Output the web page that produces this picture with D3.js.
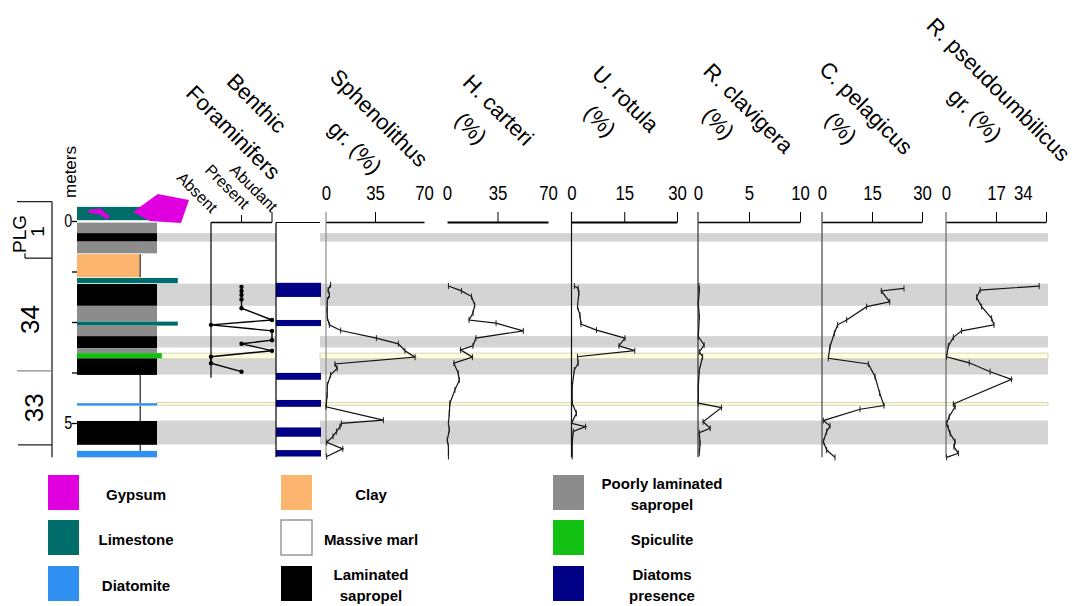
<!DOCTYPE html>
<html>
<head>
<meta charset="utf-8">
<script src="https://cdn.jsdelivr.net/npm/d3@7"></script>
<style>
  html, body { margin: 0; padding: 0; background: #fff; }
  svg { display: block; }
  text { font-family: "Liberation Sans", Arial, sans-serif; fill: #000; }
</style>
</head>
<body>
<svg id="chart" width="1076" height="606"></svg>
<script>
// ---------------- data (depth in metres) ----------------

// lithology log: [top, base, facies]
const lithLayers = [
  [-0.35, -0.02, "limestone"],
  [0.04, 0.30, "poorly"],
  [0.30, 0.51, "laminated"],
  [0.51, 0.80, "poorly"],
  [0.82, 1.39, "clay"],
  [1.41, 1.54, "limestone"],
  [1.56, 2.10, "laminated"],
  [2.10, 2.49, "poorly"],
  [2.49, 2.59, "limestone"],
  [2.59, 2.85, "poorly"],
  [2.85, 3.15, "laminated"],
  [3.15, 3.27, "poorly"],
  [3.27, 3.40, "spiculite"],
  [3.40, 3.81, "laminated"],
  [3.81, 4.51, "marl"],
  [4.51, 4.57, "diatomite"],
  [4.57, 4.95, "marl"],
  [4.95, 5.54, "laminated"],
  [5.54, 5.69, "marl"],
  [5.69, 5.85, "diatomite"]
];

// gypsum outcrops at the top of the log: [relative column width, depth]
const gypsumLarge = [[0.70, -0.22], [1.01, -0.67], [1.40, -0.52], [1.30, 0.05], [0.91, 0.00]];
const gypsumSmall = [[0.14, -0.27], [0.29, -0.31], [0.41, -0.12], [0.38, -0.04], [0.28, -0.17], [0.15, -0.20]];

// correlation bands: laminated sapropels and marker beds (spiculite, diatomite)
const sapropelBands = [[0.30, 0.51], [1.55, 2.10], [2.85, 3.13], [3.41, 3.80], [4.94, 5.53]];
const markerBeds = [[3.27, 3.41], [4.49, 4.56]];

// diatoms presence intervals
const diatomIntervals = [[1.53, 1.88], [2.45, 2.60], [3.76, 3.93], [4.43, 4.60], [5.11, 5.34], [5.67, 5.83]];

// stratigraphic zones
const zoneBounds = [-0.48, 0.92, 3.71, 5.54];
const zoneLabels = [["PLG", "1"], ["34"], ["33"]];

// benthic foraminifers: 0 absent, 1 present, 2 abundant
const benthicLevels = ["Absent", "Present", "Abudant"];
const benthicDepth = [1.63, 1.73, 1.83, 1.94, 2.16, 2.45, 2.57, 2.72, 2.95, 3.04, 3.21, 3.36, 3.52, 3.73];
const benthicValue = [1, 1, 1, 1, 1, 2, 0, 2, 2, 1, 2, 0, 0, 1];

// nannofossil abundances: [depth, value]
const sphenolithus = [
  [1.58, 3.3], [1.71, 1.5], [1.83, 2.5], [1.96, 1.0], [2.20, 0.8], [2.40, 1.0], [2.57, 2.4],
  [2.71, 10.5], [2.90, 36], [3.04, 51.7], [3.21, 56.4], [3.37, 63.6], [3.54, 6.4], [3.65, 8.0],
  [3.81, 3.3], [4.06, 1.0], [4.31, 0.8], [4.60, 0.0], [4.93, 41], [5.01, 11], [5.09, 10],
  [5.21, 7.6], [5.33, 5.0], [5.48, 0.5], [5.64, 12], [5.83, 0.5]
];
const hCarteri = [
  [1.61, 1.0], [1.73, 10], [1.87, 17], [2.08, 19.2], [2.28, 18], [2.45, 15.3], [2.53, 34],
  [2.72, 52.9], [2.90, 20], [3.09, 18], [3.19, 9.4], [3.37, 17.6], [3.52, 4.8], [3.77, 7.8],
  [3.94, 8.5], [4.18, 5.5], [4.51, 2.0], [4.76, 1.6], [5.01, 1.0], [5.17, 1.6], [5.42, 0.2],
  [5.59, 1.0], [5.83, 1.0]
];
const uRotula = [
  [1.61, 0.8], [1.67, 1.9], [1.79, 2.1], [2.12, 1.7], [2.33, 2.4], [2.55, 2.7], [2.70, 7.1],
  [2.90, 15.2], [3.09, 13.5], [3.21, 18], [3.36, 1.7], [3.52, 1.9], [3.69, 0.8], [4.10, 0.2],
  [4.51, 0.2], [4.76, 1.4], [5.01, 0.0], [5.09, 4.0], [5.21, 0.5], [5.50, 0.2], [5.83, 0.2]
];
const rClavigera = [
  [1.61, 0.1], [1.71, 0.13], [2.04, 0.03], [2.37, 0.13], [2.86, 0.03], [3.07, 0.6], [3.24, 0.13],
  [3.36, 0.45], [3.69, 0.13], [4.10, 0.03], [4.51, 0.03], [4.62, 2.3], [4.97, 0.5], [5.13, 1.2],
  [5.24, 0.13], [5.50, 0.2], [5.75, 0.13]
];
const cPelagicus = [
  [1.67, 24.6], [1.73, 17.8], [2.00, 20.3], [2.12, 13.4], [2.45, 7.4], [2.57, 4.7], [2.78, 3.7],
  [3.11, 2.4], [3.40, 1.9], [3.54, 13.9], [3.85, 15.9], [4.26, 17.3], [4.57, 18.6], [4.66, 11.4],
  [4.94, 0.4], [5.07, 2.4], [5.21, 1.4], [5.46, 0.4], [5.67, 1.4], [5.85, 3.9]
];
const rPseudoumbilicus = [
  [1.61, 31.7], [1.71, 11.6], [1.89, 10.4], [2.12, 12.1], [2.41, 15.5], [2.57, 16.3], [2.72, 5.3],
  [2.88, 2.5], [3.09, 0.8], [3.36, 0.2], [3.51, 7.9], [3.73, 15.0], [3.92, 22.3], [4.53, 2.5],
  [4.60, 3.1], [4.84, 1.1], [5.01, 0.2], [5.13, 0.8], [5.26, 1.4], [5.46, 3.1], [5.59, 2.7],
  [5.75, 4.2], [5.85, 0.2]
];

const panelTitles = [
  ["Sphenolithus", "gr. (%)"], ["H. carteri", "(%)"], ["U. rotula", "(%)"],
  ["R. clavigera", "(%)"], ["C. pelagicus", "(%)"], ["R. pseudoumbilicus", "gr. (%)"]
];
const panelSeries = [sphenolithus, hCarteri, uRotula, rClavigera, cPelagicus, rPseudoumbilicus];
const panelDomains = [[0, 70], [0, 70], [0, 30], [0, 10], [0, 30], [0, 34]];
const panelTicks = [[0, 35, 70], [0, 35, 70], [0, 15, 30], [0, 5, 10], [0, 15, 30], [0, 17, 34]];

const legendItems = [
  ["gypsum", ["Gypsum"]], ["limestone", ["Limestone"]], ["diatomite", ["Diatomite"]],
  ["clay", ["Clay"]], ["marl", ["Massive marl"]], ["laminated", ["Laminated", "sapropel"]],
  ["poorly", ["Poorly laminated", "sapropel"]], ["spiculite", ["Spiculite"]], ["diatoms", ["Diatoms", "presence"]]
];

// ---------------- styles and layout ----------------
const colors = {
  gypsum: "#e000df", limestone: "#006d6b", diatomite: "#2f90f2", clay: "#fcb56f",
  marl: "#ffffff", laminated: "#000000", poorly: "#8c8c8c", spiculite: "#12c012", diatoms: "#000086"
};
const lithWidth = { limestone: 1.26, poorly: 1, laminated: 1, clay: 0.79, spiculite: 1.06, marl: 0.79, diatomite: 1 };
// condensed numerals: regular sans squeezed horizontally
const condensed = "scale(0.8,1)";

const panelLayout = [
  { x0: 326, x1: 424, vline: "#8a8a8a", axisW: 1.3, endTick: false, title: [[379, 118], [355, 147.5]] },
  { x0: 447, x1: 548, vline: null,      axisW: 2.2, endTick: false, title: [[498.3, 110], [470.8, 128.3]] },
  { x0: 571.5, x1: 677, vline: "#111",  axisW: 2.2, endTick: true,  title: [[625.5, 99], [600, 121]] },
  { x0: 698, x1: 800, vline: "#333",    axisW: 1.3, endTick: true,  title: [[748.3, 108.3], [718.3, 123.3]] },
  { x0: 822, x1: 922, vline: "#444",    axisW: 1.3, endTick: true,  title: [[866, 108], [841, 128]] },
  { x0: 946, x1: 1046, vline: "#666",   axisW: 1.3, endTick: true,  title: [[998.5, 89.5], [975, 115]] }
];

const svg = d3.select("#chart");
svg.append("rect").attr("width", 1076).attr("height", 606).attr("fill", "#fff");

const y = d3.scaleLinear().domain([0, 5]).range([221, 423]);
const yBottom = y(5.85);
const lx = d3.scaleLinear().domain([0, 1]).range([77, 157]);

// ---------------- correlation bands ----------------
const bandSegments = [[157, 276], [320, 1048]];
const bands = svg.append("g");
sapropelBands.forEach(b => bandSegments.forEach(s => {
  bands.append("rect").attr("x", s[0]).attr("width", s[1] - s[0])
    .attr("y", y(b[0])).attr("height", y(b[1]) - y(b[0])).attr("fill", "#d4d4d4");
}));
markerBeds.forEach(b => bandSegments.forEach(s => {
  bands.append("rect").attr("x", s[0]).attr("width", s[1] - s[0])
    .attr("y", y(b[0])).attr("height", y(b[1]) - y(b[0]))
    .attr("fill", "#fdfde3").attr("stroke", "#cfcfa8").attr("stroke-width", 0.8);
}));

// ---------------- lithological log ----------------
const lith = svg.append("g");
lithLayers.filter(l => l[2] === "marl").forEach(l => {
  lith.append("line").attr("x1", lx(lithWidth.marl)).attr("x2", lx(lithWidth.marl))
    .attr("y1", y(l[0])).attr("y2", y(l[1])).attr("stroke", "#222").attr("stroke-width", 1.2);
});
lith.selectAll("rect.layer").data(lithLayers.filter(l => l[2] !== "marl")).join("rect")
  .attr("class", "layer")
  .attr("x", lx(0)).attr("width", d => lx(lithWidth[d[2]]) - lx(0))
  .attr("y", d => y(d[0])).attr("height", d => y(d[1]) - y(d[0]))
  .attr("fill", d => colors[d[2]]);
lithLayers.filter(l => l[2] === "clay").forEach(l => {
  lith.append("line").attr("x1", lx(lithWidth.clay)).attr("x2", lx(lithWidth.clay))
    .attr("y1", y(l[0])).attr("y2", y(l[1])).attr("stroke", "#333").attr("stroke-width", 1.2);
});
const poly = d3.line().x(p => lx(p[0])).y(p => y(p[1]));
[gypsumLarge, gypsumSmall].forEach(g => {
  lith.append("path").attr("d", poly(g) + "Z").attr("fill", colors.gypsum);
});

// depth axis
const depthAxis = d3.axisLeft(y).tickValues([0, 1.25, 2.5, 3.75, 5]).tickSize(5).tickPadding(1)
  .tickFormat(d => (d === 0 || d === 5) ? d3.format("d")(d) : "");
const dg = svg.append("g").attr("transform", `translate(${lx(0)},0)`).call(depthAxis)
  .attr("font-family", null).attr("font-size", 18);
dg.select(".domain").remove();
dg.selectAll(".tick line").attr("stroke", "#000").attr("stroke-width", 1.3);
dg.selectAll(".tick text").attr("fill", "#000").attr("transform", condensed);
svg.append("text").attr("transform", "translate(70,172) rotate(-90)")
  .attr("text-anchor", "middle").attr("dominant-baseline", "central")
  .attr("font-size", 17).text("meters");

// zones
const zg = svg.append("g").attr("stroke", "#222").attr("stroke-width", 1.3);
zg.append("line").attr("x1", 52).attr("x2", 52).attr("y1", y(zoneBounds[0])).attr("y2", yBottom);
const zoneLineStart = [17, 25, 17, 18];
zoneBounds.forEach((b, i) => {
  zg.append("line").attr("x1", zoneLineStart[i]).attr("x2", 52).attr("y1", y(b)).attr("y2", y(b))
    .attr("stroke", i === 2 ? "#888" : "#222");
});
zg.append("line").attr("x1", 25).attr("x2", 25).attr("y1", y(zoneBounds[1]) - 5).attr("y2", y(zoneBounds[1]));
// zone names
svg.append("text").attr("transform", "translate(19,234) rotate(-90)").attr("text-anchor", "middle")
  .attr("dominant-baseline", "central").attr("font-size", 19).text(zoneLabels[0][0]);
svg.append("text").attr("transform", "translate(37.5,231.5) rotate(-90)").attr("text-anchor", "middle")
  .attr("dominant-baseline", "central").attr("font-size", 19).text(zoneLabels[0][1]);
svg.append("text").attr("transform", `translate(29.5,${(y(zoneBounds[1]) + y(zoneBounds[2])) / 2 + 5}) rotate(-90)`)
  .attr("text-anchor", "middle").attr("dominant-baseline", "central").attr("font-size", 26).text(zoneLabels[1][0]);
svg.append("text").attr("transform", `translate(34,${(y(zoneBounds[2]) + y(zoneBounds[3])) / 2}) rotate(-90)`)
  .attr("text-anchor", "middle").attr("dominant-baseline", "central").attr("font-size", 26).text(zoneLabels[2][0]);

// ---------------- benthic foraminifers ----------------
const bx = d3.scaleLinear().domain([0, 2]).range([211, 272]);
const bg = svg.append("g");
bg.append("line").attr("x1", bx(0)).attr("x2", bx(2)).attr("y1", 222.5).attr("y2", 222.5)
  .attr("stroke", "#000").attr("stroke-width", 1.3);
bg.append("line").attr("x1", bx(0)).attr("x2", bx(0)).attr("y1", 222.5).attr("y2", y(3.88))
  .attr("stroke", "#000").attr("stroke-width", 1.2);
bg.append("line").attr("x1", bx(1)).attr("x2", bx(1)).attr("y1", 215).attr("y2", 222.5).attr("stroke", "#000");
bg.append("line").attr("x1", bx(2)).attr("x2", bx(2)).attr("y1", 212).attr("y2", 222.5).attr("stroke", "#000");
const levelAnchors = [[211, 214], [243, 210], [271, 213]];
benthicLevels.forEach((t, i) => {
  svg.append("text").attr("transform", `translate(${levelAnchors[i][0]},${levelAnchors[i][1]}) rotate(45)`)
    .attr("text-anchor", "end").attr("font-size", 16).text(t);
});
const benthicPts = benthicDepth.map((d, i) => [benthicValue[i], d]);
bg.append("path").attr("d", d3.line().x(p => bx(p[0])).y(p => y(p[1]))(benthicPts))
  .attr("fill", "none").attr("stroke", "#000").attr("stroke-width", 1.4);
bg.selectAll("circle").data(benthicPts).join("circle")
  .attr("cx", p => bx(p[0])).attr("cy", p => y(p[1])).attr("r", 2.2).attr("fill", "#000");
svg.append("text").attr("transform", "translate(256.7,103.3) rotate(45)").attr("text-anchor", "middle")
  .attr("dominant-baseline", "central").attr("font-size", 22).text("Benthic");
svg.append("text").attr("transform", "translate(233.3,132.5) rotate(45)").attr("text-anchor", "middle")
  .attr("dominant-baseline", "central").attr("font-size", 22).text("Foraminifers");

// ---------------- diatoms column ----------------
const dcol = svg.append("g");
dcol.selectAll("rect").data(diatomIntervals).join("rect")
  .attr("x", 276).attr("width", 45).attr("y", d => y(d[0])).attr("height", d => y(d[1]) - y(d[0]))
  .attr("fill", colors.diatoms);
dcol.append("line").attr("x1", 276).attr("x2", 276).attr("y1", 222.5).attr("y2", yBottom)
  .attr("stroke", "#000").attr("stroke-width", 1.2);
dcol.append("line").attr("x1", 276).attr("x2", 320).attr("y1", 222.5).attr("y2", 222.5)
  .attr("stroke", "#000").attr("stroke-width", 1.2);

// ---------------- nannofossil panels ----------------
panelSeries.forEach((series, i) => {
  const L = panelLayout[i];
  const dom = panelDomains[i];
  const x = d3.scaleLinear().domain(dom).range([L.x0, L.x1]);
  const g = svg.append("g");

  if (L.vline) {
    g.append("line").attr("x1", x(0)).attr("x2", x(0)).attr("y1", 212).attr("y2", yBottom)
      .attr("stroke", L.vline).attr("stroke-width", 1.2);
  }
  const axis = d3.axisTop(x).tickValues(panelTicks[i]).tickSize(10).tickPadding(12).tickSizeOuter(0)
    .tickFormat(d3.format("d"));
  const ag = g.append("g").attr("transform", "translate(0,222)").call(axis)
    .attr("font-family", null).attr("font-size", 21);
  ag.select(".domain").attr("stroke", "#000").attr("stroke-width", L.axisW);
  ag.selectAll(".tick line").attr("stroke", "#000").attr("stroke-width", 1)
    .attr("display", d => (d === dom[0] || (d === dom[1] && !L.endTick)) ? "none" : null);
  ag.selectAll(".tick text").attr("fill", "#000").attr("transform", condensed)
    .attr("dx", d => (i === 5 && d === 34) ? -29 : 0);

  const line = d3.line().x(p => x(p[1])).y(p => y(p[0]));
  g.append("path").attr("d", line(series)).attr("fill", "none")
    .attr("stroke", "#111").attr("stroke-width", 1.2);
  g.selectAll("line.mk").data(series).join("line").attr("class", "mk")
    .attr("x1", p => x(p[1])).attr("x2", p => x(p[1]))
    .attr("y1", p => y(p[0]) - 3).attr("y2", p => y(p[0]) + 3)
    .attr("stroke", "#222").attr("stroke-width", 1);

  panelTitles[i].forEach((t, k) => {
    svg.append("text").attr("transform", `translate(${L.title[k][0]},${L.title[k][1]}) rotate(45)`)
      .attr("text-anchor", "middle").attr("dominant-baseline", "central")
      .attr("font-size", 22).text(t);
  });
});

// ---------------- legend ----------------
const legCols = [48, 281, 553];
const legTextX = [136, 371, 662];
const legRows = [475, 520, 566];
const legend = svg.append("g");
legendItems.forEach((item, idx) => {
  const c = Math.floor(idx / 3), r = idx % 3;
  const key = item[0];
  legend.append("rect").attr("x", legCols[c]).attr("y", legRows[r]).attr("width", 31).attr("height", 35)
    .attr("fill", colors[key])
    .attr("stroke", key === "marl" ? "#9a9a9a" : "none").attr("stroke-width", key === "marl" ? 1.5 : 0);
  const lines = item[1];
  const cy = legRows[r] + 19;
  lines.forEach((t, k) => {
    legend.append("text").attr("x", legTextX[c])
      .attr("y", cy + (k - (lines.length - 1) / 2) * 21)
      .attr("text-anchor", "middle").attr("dominant-baseline", "central")
      .attr("font-size", 15).attr("font-weight", "bold").text(t);
  });
});
</script>
</body>
</html>
